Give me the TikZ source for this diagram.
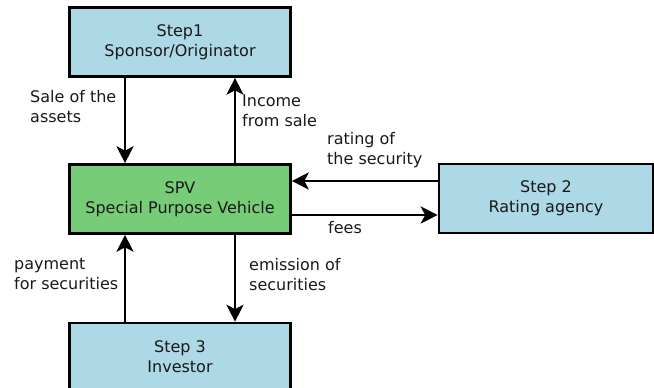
\documentclass[tikz,border=0pt]{standalone}
\usepackage{fontspec}
\setmainfont{DejaVu Sans}
\usetikzlibrary{arrows.meta}
\definecolor{boxblue}{RGB}{173,216,230}
\definecolor{boxgreen}{RGB}{119,204,119}
\definecolor{txt}{RGB}{25,25,25}
\begin{document}
\begin{tikzpicture}[x=1pt,y=-1pt,
  box/.style={draw=black,line width=2.6pt,minimum width=221pt,minimum height=69pt,inner sep=0pt,align=center,font=\fontsize{16}{20}\selectfont,text=txt},
  rbox/.style={box,minimum width=214pt},
  lbl/.style={align=left,anchor=west,font=\fontsize{16}{20}\selectfont,text=txt,inner sep=0pt},
  arr/.style={line width=2.4pt,-{Stealth[length=17pt,width=17pt,inset=4.5pt]}}]
\useasboundingbox (0,0) rectangle (654,388);
\begin{scope}
\clip (0,0) rectangle (654,388);
\node[box,fill=boxblue] (s1) at (180,42) {Step1\\Sponsor/Originator};
\node[box,fill=boxgreen] (spv) at (180,199) {SPV\\Special Purpose Vehicle};
\node[rbox,fill=boxblue] (rat) at (546,198.5) {Step 2\\Rating agency};
\node[box,fill=boxblue,minimum height=90pt] (inv) at (180,368) {};
\end{scope}
\node[font=\fontsize{16}{20}\selectfont,text=txt,align=center] (invt) at (180,357) {Step 3\\Investor};
\coordinate (a1) at (125,0);
\coordinate (a2) at (235,0);
\draw[arr] (s1.south -| a1) -- (spv.north -| a1);
\draw[arr] (spv.north -| a2) -- (s1.south -| a2);
\draw[arr] (inv.north -| a1) -- (spv.south -| a1);
\draw[arr] (spv.south -| a2) -- (inv.north -| a2);
\coordinate (b1) at (0,181);
\coordinate (b2) at (0,215);
\draw[arr] (rat.west |- b1) -- (spv.east |- b1);
\draw[arr] (spv.east |- b2) -- (rat.west |- b2);
\node[lbl] (l1) at (30,107) {Sale of the\\assets};
\node[lbl] (l2) at (242,111) {Income\\from sale};
\node[lbl] (l3) at (327,150) {rating of\\the security};
\node[lbl] (l4) at (328,228) {fees};
\node[lbl] (l5) at (14,274) {payment\\for securities};
\node[lbl] (l6) at (249,275) {emission of\\securities};
\end{tikzpicture}
\end{document}
